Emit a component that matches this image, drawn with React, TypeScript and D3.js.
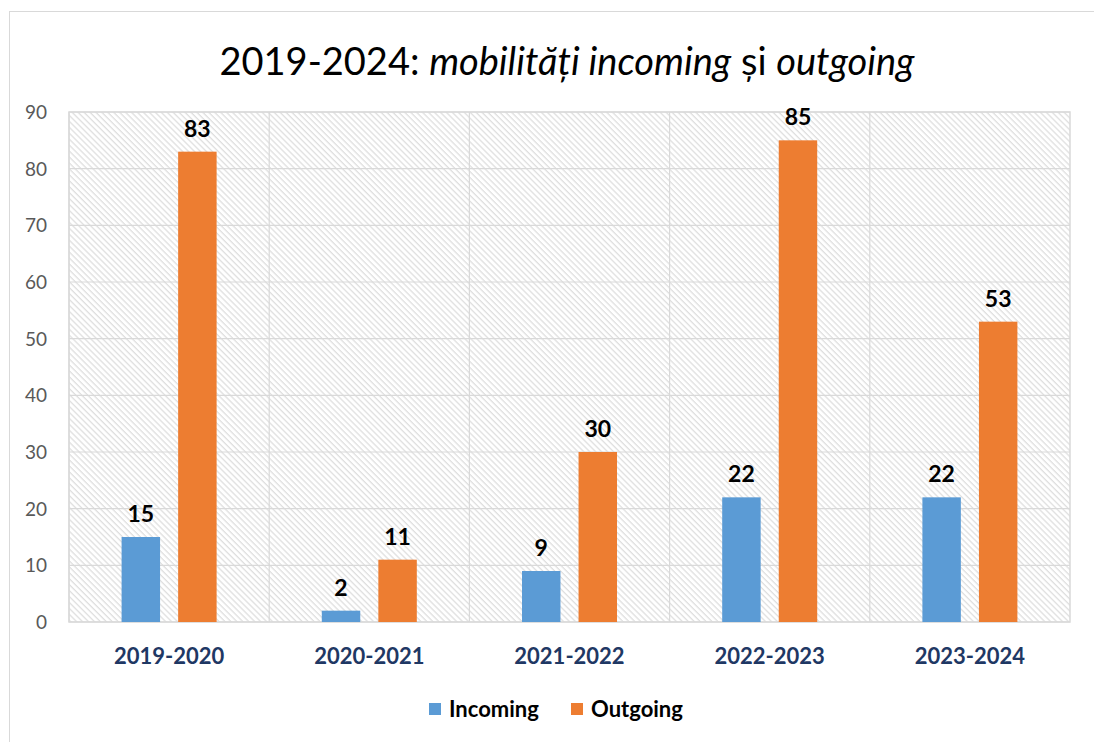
import React from "react";
import * as d3 from "d3";

const categories = ["2019-2020", "2020-2021", "2021-2022", "2022-2023", "2023-2024"];
const seriesNames = ["Incoming", "Outgoing"];
const incoming = [15, 2, 9, 22, 22];
const outgoing = [83, 11, 30, 85, 53];
const yTicks = [0, 10, 20, 30, 40, 50, 60, 70, 80, 90];
const colors = ["#5b9bd5", "#ed7d31"];

const W = 1094;
const H = 742;
const FONT = "Lato, 'Open Sans', sans-serif";

export default function App() {
  const left = 69, right = 1070, top = 112, bottom = 622;
  const x = d3.scaleBand<string>().domain(categories).range([left, right]).padding(0);
  const xi = d3
    .scaleBand<string>()
    .domain(seriesNames)
    .range([0, x.bandwidth()])
    .paddingInner(0.32)
    .paddingOuter(0.93);
  const y = d3.scaleLinear().domain([0, 90]).range([bottom, top]);
  const values = [incoming, outgoing];

  return (
    <svg
      width={W}
      height={H}
      style={{ position: "absolute", left: 0, top: 0, display: "block", background: "#fff" }}
      fontFamily={FONT}
    >
      <defs>
        <pattern
          id="hatch"
          patternUnits="userSpaceOnUse"
          width={4.2}
          height={4.2}
          patternTransform="rotate(-45)"
        >
          <rect width={4.2} height={4.2} fill="#ffffff" />
          <line x1={1} y1={0} x2={1} y2={4.2} stroke="#dadada" strokeWidth={1.1} />
        </pattern>
      </defs>
      <rect x={0} y={0} width={W} height={H} fill="#fff" />
      <rect x={9.5} y={11.5} width={W + 20} height={H + 20} fill="#fff" stroke="#d9d9d9" strokeWidth={1} />

      <text x={567} y={75} textAnchor="middle" fontSize={38} fill="#000">
        <tspan>2019-2024: </tspan>
        <tspan fontStyle="italic">mobilități incoming</tspan>
        <tspan> și </tspan>
        <tspan fontStyle="italic">outgoing</tspan>
      </text>

      <rect x={left} y={top} width={right - left} height={bottom - top} fill="url(#hatch)" />
      {yTicks.map((t) => (
        <line key={"g" + t} x1={left} x2={right} y1={y(t)} y2={y(t)} stroke="#d9d9d9" strokeWidth={1.2} />
      ))}
      {categories.map((c) => (
        <line key={"v" + c} x1={x(c)!} x2={x(c)!} y1={top} y2={bottom} stroke="#d9d9d9" strokeWidth={1.2} />
      ))}
      <rect x={left} y={top} width={right - left} height={bottom - top} fill="none" stroke="#d9d9d9" strokeWidth={1.5} />

      {yTicks.map((t) => (
        <text key={"t" + t} x={47} y={y(t)} dy="0.36em" textAnchor="end" fontSize={19} fill="#595959">
          {t}
        </text>
      ))}

      {categories.map((c, i) =>
        seriesNames.map((s, k) => {
          const v = values[k][i];
          const bx = x(c)! + xi(s)!;
          return (
            <g key={c + s}>
              <rect x={bx} y={y(v)} width={xi.bandwidth()} height={bottom - y(v)} fill={colors[k]} />
              <text
                x={bx + xi.bandwidth() / 2}
                y={y(v) - 15}
                textAnchor="middle"
                fontSize={23}
                fontWeight="bold"
                fill="#000"
              >
                {v}
              </text>
            </g>
          );
        })
      )}

      {categories.map((c) => (
        <text
          key={"c" + c}
          x={x(c)! + x.bandwidth() / 2}
          y={664}
          textAnchor="middle"
          fontSize={22}
          fontWeight="bold"
          fill="#1f3864"
        >
          {c}
        </text>
      ))}

      {seriesNames.map((s, k) => {
        const lx = [429, 571][k];
        return (
          <g key={"l" + s}>
            <rect x={lx} y={703} width={12} height={12} fill={colors[k]} />
            <text x={lx + 20} y={717} fontSize={22} fontWeight="bold" fill="#000">
              {s}
            </text>
          </g>
        );
      })}
    </svg>
  );
}
